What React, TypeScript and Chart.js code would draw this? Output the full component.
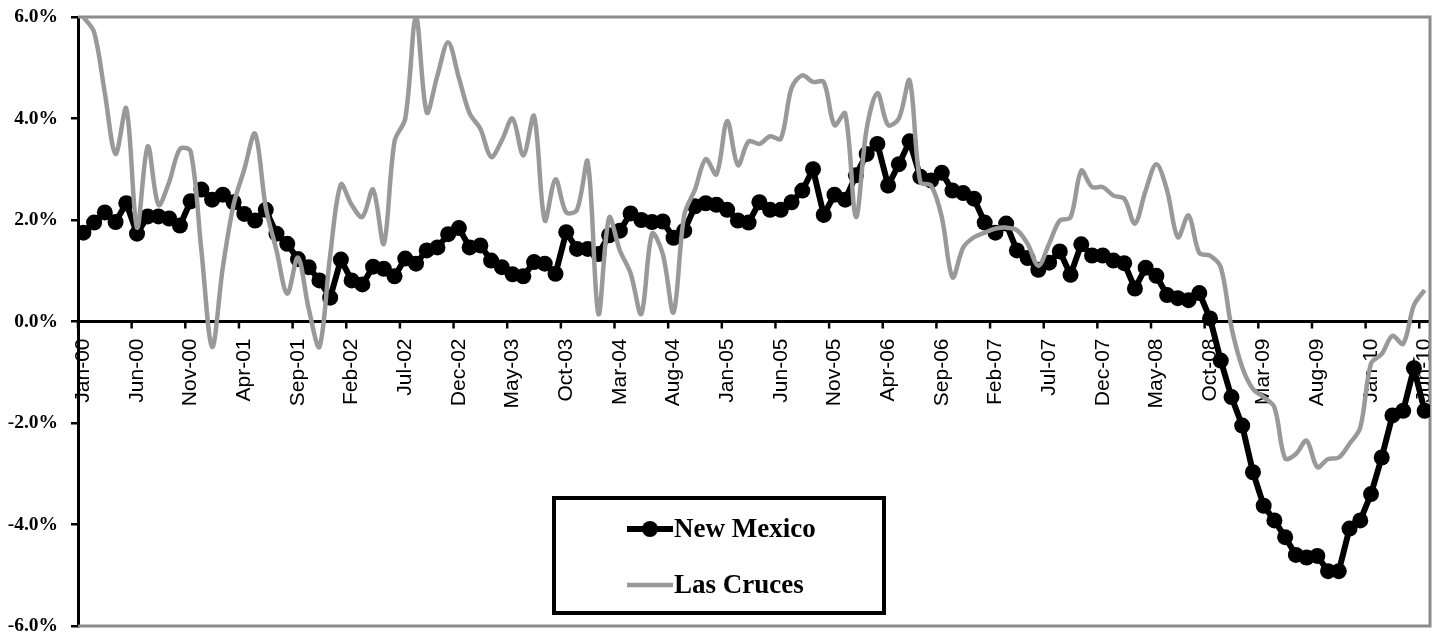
import { useEffect, useRef } from 'react';
import { Chart, registerables } from 'chart.js';

Chart.register(...registerables);

// Monthly categories, Jan-00 through Jun-10
const MONTH_NAMES = ['Jan', 'Feb', 'Mar', 'Apr', 'May', 'Jun', 'Jul', 'Aug', 'Sep', 'Oct', 'Nov', 'Dec'];
const FIRST_YEAR = 2000;
const MONTH_COUNT = 126;
const categories: string[] = [];
for (let i = 0; i < MONTH_COUNT; i++) {
  const yr = (FIRST_YEAR + Math.floor(i / 12)) % 100;
  categories.push(`${MONTH_NAMES[i % 12]}-${String(yr).padStart(2, '0')}`);
}

// Year-over-year employment growth, percent
const newMexico: number[] = [
  1.75, 1.95, 2.15, 1.96, 2.33, 1.73, 2.07, 2.07, 2.03, 1.89, 2.37, 2.6,
  2.4, 2.5, 2.35, 2.12, 1.99, 2.2, 1.73, 1.53, 1.23, 1.07, 0.81, 0.47,
  1.22, 0.81, 0.73, 1.08, 1.04, 0.89, 1.24, 1.14, 1.4, 1.46, 1.72, 1.84,
  1.46, 1.5, 1.2, 1.07, 0.93, 0.89, 1.17, 1.14, 0.94, 1.76, 1.43, 1.43,
  1.33, 1.7, 1.79, 2.13, 2.0, 1.96, 1.97, 1.65, 1.79, 2.27, 2.33, 2.3,
  2.2, 1.99, 1.95, 2.35, 2.2, 2.2, 2.35, 2.58, 3.0, 2.1, 2.5, 2.4,
  2.88, 3.3, 3.5, 2.68, 3.1, 3.55, 2.85, 2.78, 2.93, 2.58, 2.53, 2.42,
  1.95, 1.75, 1.93, 1.4, 1.25, 1.02, 1.16, 1.38, 0.92, 1.52, 1.3, 1.3,
  1.2, 1.15, 0.65, 1.06, 0.9, 0.52, 0.46, 0.42, 0.56, 0.06, -0.77, -1.49,
  -2.05, -2.97, -3.63, -3.92, -4.25, -4.6, -4.65, -4.62, -4.92, -4.92, -4.08, -3.92,
  -3.4, -2.68, -1.85, -1.76, -0.92, -1.76,
];

const lasCruces: number[] = [
  6.0, 5.7, 4.5, 3.3, 4.2, 1.85, 3.45, 2.3, 2.75, 3.4, 3.35, 1.4,
  -0.5, 1.07, 2.3, 3.0, 3.7, 2.25, 1.4, 0.55, 1.26, 0.25, -0.5, 1.3,
  2.7, 2.3, 2.06, 2.6, 1.53, 3.55, 4.0, 6.0, 4.12, 4.85, 5.5, 4.8,
  4.1, 3.8, 3.24, 3.57, 4.0, 3.27, 4.05, 1.99, 2.8, 2.15, 2.2, 3.15,
  0.15, 2.05, 1.4, 0.95, 0.15, 1.73, 1.33, 0.18, 2.1, 2.6, 3.2, 2.9,
  3.95, 3.08, 3.55, 3.5, 3.65, 3.6, 4.6, 4.85, 4.72, 4.72, 3.87, 4.1,
  2.06, 3.8, 4.5, 3.87, 4.0, 4.75, 2.75, 2.68, 2.06, 0.87, 1.46, 1.66,
  1.75, 1.83, 1.85, 1.8, 1.53, 1.1, 1.53, 1.99, 2.05, 2.97, 2.65, 2.65,
  2.48, 2.42, 1.93, 2.58, 3.1, 2.58, 1.66, 2.09, 1.35, 1.3, 1.07, -0.12,
  -0.9, -1.33, -1.49, -1.69, -2.7, -2.61, -2.35, -2.87, -2.71, -2.68, -2.41, -2.09,
  -0.83, -0.64, -0.28, -0.44, 0.32, 0.62,
];

const SERIES_NAMES = ['New Mexico', 'Las Cruces'];
const LABEL_EVERY = 5;

const SERIF = "'Liberation Serif', 'Times New Roman', serif";
const SANS = "'Liberation Sans', Arial, sans-serif";
const NM_COLOR = '#000000';
const LC_COLOR = '#999999';
const FRAME_COLOR = '#8c8c8c';

// Plot frame, category tick marks and the boxed legend
const decorations = {
  id: 'decorations',
  beforeDatasetsDraw(chart: any) {
    const { ctx, chartArea } = chart;
    const { left, right, top, bottom } = chartArea;
    ctx.save();
    ctx.strokeStyle = FRAME_COLOR;
    ctx.lineWidth = 3;
    ctx.beginPath();
    ctx.moveTo(left, top);
    ctx.lineTo(right, top);
    ctx.lineTo(right, bottom);
    ctx.lineTo(left, bottom);
    ctx.stroke();

    const xs = chart.scales.x;
    const ys = chart.scales.y;
    const y0 = ys.getPixelForValue(0);
    const step = xs.getPixelForValue(1) - xs.getPixelForValue(0);
    ctx.strokeStyle = '#000';
    ctx.lineWidth = 2.5;
    ctx.beginPath();
    for (let i = 0; i < categories.length; i += LABEL_EVERY) {
      const x = xs.getPixelForValue(i) - step / 2;
      ctx.moveTo(x, y0);
      ctx.lineTo(x, y0 + 7);
    }
    ctx.stroke();
    ctx.restore();
  },
  afterDraw(chart: any) {
    const { ctx, chartArea } = chart;
    const boxL = chartArea.left + 476;
    const boxT = chartArea.top + 481;
    const boxW = 330;
    const boxH = 115;
    ctx.save();
    ctx.fillStyle = '#fff';
    ctx.fillRect(boxL, boxT, boxW, boxH);
    ctx.strokeStyle = '#000';
    ctx.lineWidth = 4;
    ctx.strokeRect(boxL, boxT, boxW, boxH);

    const lineL = boxL + 73;
    const lineR = boxL + 119;
    const rows = [boxT + 31, boxT + 87];
    ctx.lineCap = 'butt';
    // New Mexico entry
    ctx.strokeStyle = NM_COLOR;
    ctx.lineWidth = 6;
    ctx.beginPath();
    ctx.moveTo(lineL, rows[0]);
    ctx.lineTo(lineR, rows[0]);
    ctx.stroke();
    ctx.fillStyle = NM_COLOR;
    ctx.beginPath();
    ctx.arc((lineL + lineR) / 2, rows[0], 8, 0, Math.PI * 2);
    ctx.fill();
    // Las Cruces entry
    ctx.strokeStyle = LC_COLOR;
    ctx.lineWidth = 4.5;
    ctx.beginPath();
    ctx.moveTo(lineL, rows[1]);
    ctx.lineTo(lineR, rows[1]);
    ctx.stroke();

    ctx.fillStyle = '#000';
    ctx.font = `bold 27px ${SERIF}`;
    ctx.textAlign = 'left';
    ctx.textBaseline = 'middle';
    ctx.fillText(SERIES_NAMES[0], lineR + 1, rows[0] + 1);
    ctx.fillText(SERIES_NAMES[1], lineR + 1, rows[1] + 1);
    ctx.restore();
  },
};

const zeroScalePadding = (scale: any) => {
  scale.paddingTop = 0;
  scale.paddingBottom = 0;
  scale.paddingLeft = 0;
  scale.paddingRight = 0;
};

export default function App() {
  const canvasRef = useRef<HTMLCanvasElement | null>(null);

  useEffect(() => {
    const canvas = canvasRef.current;
    if (!canvas) return;
    const chart = new Chart(canvas, {
      type: 'line',
      data: {
        labels: categories,
        datasets: [
          {
            label: SERIES_NAMES[0],
            data: newMexico,
            borderColor: NM_COLOR,
            backgroundColor: NM_COLOR,
            borderWidth: 6,
            pointRadius: 8,
            pointBorderWidth: 0,
            pointBackgroundColor: NM_COLOR,
            tension: 0,
            order: 1,
            clip: 0,
          },
          {
            label: SERIES_NAMES[1],
            data: lasCruces,
            borderColor: LC_COLOR,
            backgroundColor: LC_COLOR,
            borderWidth: 4.5,
            pointRadius: 0,
            tension: 0.33,
            order: 0,
            clip: 0,
          },
        ],
      },
      options: {
        animation: false,
        responsive: false,
        maintainAspectRatio: false,
        layout: { padding: { top: 17, right: 12, bottom: 9, left: 0 } },
        plugins: {
          legend: { display: false },
          tooltip: { enabled: false },
        },
        scales: {
          x: {
            type: 'category',
            position: { y: 0 },
            offset: true,
            afterFit: (scale: any) => {
              zeroScalePadding(scale);
              scale.height = 0;
            },
            grid: { display: false },
            border: { display: true, color: '#000', width: 3 },
            ticks: {
              autoSkip: false,
              maxRotation: 90,
              minRotation: 90,
              padding: 9,
              color: '#000',
              font: { family: SANS, size: 21 },
              callback: (_v: any, idx: number) => (idx % LABEL_EVERY === 0 ? categories[idx] : ''),
            },
          },
          y: {
            min: -6,
            max: 6,
            afterFit: (scale: any) => {
              zeroScalePadding(scale);
              scale.width = 78;
            },
            grid: {
              display: true,
              drawOnChartArea: false,
              drawTicks: true,
              tickLength: 7,
              color: '#000',
              lineWidth: 2.5,
            },
            border: { display: true, color: '#000', width: 3 },
            ticks: {
              stepSize: 2,
              padding: 13,
              color: '#000',
              font: { family: SERIF, size: 19.5, weight: 'bold' },
              callback: (v: any) => `${Number(v).toFixed(1)}%`,
            },
          },
        },
      },
      plugins: [decorations],
    });
    return () => chart.destroy();
  }, []);

  return (
    <div style={{ position: 'fixed', left: 0, top: 0, width: 1442, height: 635, background: '#fff' }}>
      <canvas ref={canvasRef} width={1442} height={635} style={{ width: 1442, height: 635 }} />
    </div>
  );
}
